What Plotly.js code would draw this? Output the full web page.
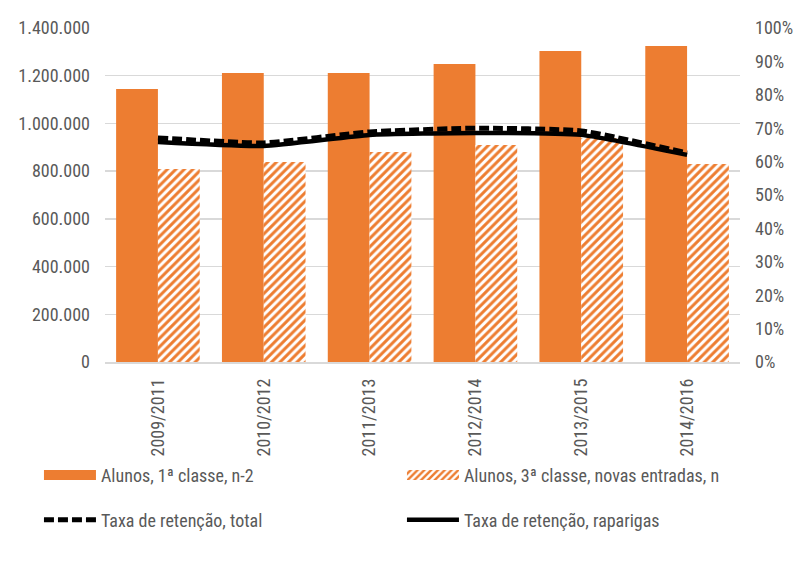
<!DOCTYPE html>
<html>
<head>
<meta charset="utf-8">
<script src="https://cdn.plot.ly/plotly-3.0.1.min.js"></script>
<style>html,body{margin:0;padding:0;background:#fff;}#chart{width:802px;height:562px;}</style>
</head>
<body>
<div id="chart"></div>
<script>
const categories = ["2009/2011","2010/2012","2011/2013","2012/2014","2013/2015","2014/2016"];
const alunos1 = [1144000, 1211000, 1211000, 1249000, 1304000, 1325000];
const alunos3 = [809000, 838000, 880000, 910000, 939000, 830000];
const taxaTotal = [0.671, 0.656, 0.689, 0.700, 0.692, 0.626];
const taxaRaparigas = [0.659, 0.647, 0.680, 0.686, 0.680, 0.620];
const seriesNames = ["Alunos, 1ª classe, n-2","Alunos, 3ª classe, novas entradas, n","Taxa de retenção, total","Taxa de retenção, raparigas"];

const FONT = "'Roboto Condensed', 'Liberation Sans', sans-serif";
const ORANGE = "#ED7D31";
const GRAY = "#595959";

const traces = [
  {type:"bar", x:categories, y:alunos1, name:seriesNames[0], marker:{color:ORANGE}, legend:"legend", yaxis:"y"},
  {type:"bar", x:categories, y:alunos3, name:seriesNames[1],
   marker:{color:"#ffffff", pattern:{shape:"/", fgcolor:ORANGE, bgcolor:"#ffffff", fgopacity:1, size:6, solidity:0.5, fillmode:"replace"}},
   legend:"legend", yaxis:"y"},
  {type:"scatter", mode:"lines", x:categories, y:taxaTotal, name:seriesNames[2],
   line:{color:"#000", width:5, dash:"10px,4px", shape:"spline", smoothing:0.45}, yaxis:"y2", legend:"legend2"},
  {type:"scatter", mode:"lines", x:categories, y:taxaRaparigas, name:seriesNames[3],
   line:{color:"#000", width:4.5, shape:"spline", smoothing:0.45}, yaxis:"y2", legend:"legend2"}
];

const legendCommon = {orientation:"h", x:-0.104, xanchor:"left", yanchor:"top", entrywidth:296, itemwidth:52,
  font:{family:FONT, size:18, color:GRAY}, traceorder:"normal", bgcolor:"rgba(0,0,0,0)"};

const layout = {
  width:802, height:562,
  margin:{l:105, r:62, t:28, b:200},
  separators:",.",
  paper_bgcolor:"#fff", plot_bgcolor:"#fff",
  font:{family:FONT, size:18, color:GRAY},
  barmode:"group", bargap:0.21, bargroupgap:0,
  showlegend:true,
  xaxis:{type:"category", tickangle:-90, showgrid:false, showline:true, linecolor:"#D9D9D9", linewidth:1.5,
         ticks:"", tickfont:{family:FONT, size:18, color:GRAY}, ticklabelstandoff:8},
  yaxis:{range:[0,1400000], dtick:200000, tickformat:",d", showgrid:true, gridcolor:"#D9D9D9", gridwidth:1.5,
         zeroline:false, ticks:"", tickfont:{family:FONT, size:18, color:GRAY}, ticklabelstandoff:14},
  yaxis2:{range:[0,1], dtick:0.1, tickformat:".0%", overlaying:"y", side:"right", showgrid:false,
          zeroline:false, ticks:"", tickfont:{family:FONT, size:18, color:GRAY}, ticklabelstandoff:14},
  legend:Object.assign({}, legendCommon, {y:-0.284}),
  legend2:Object.assign({}, legendCommon, {y:-0.418})
};

function widenSwatches(gd){
  gd.querySelectorAll("g.traces").forEach(function(g){
    if (g.querySelector("path.js-line")) return;
    g.querySelectorAll("g.legendpoints path").forEach(function(p){
      p.setAttribute("d", "M26,5H-26V-5H26Z");
    });
  });
}

Plotly.newPlot("chart", traces, layout, {displayModeBar:false, staticPlot:true}).then(function(gd){
  widenSwatches(gd);
  setTimeout(function(){ widenSwatches(gd); }, 50);
});
</script>
</body>
</html>
